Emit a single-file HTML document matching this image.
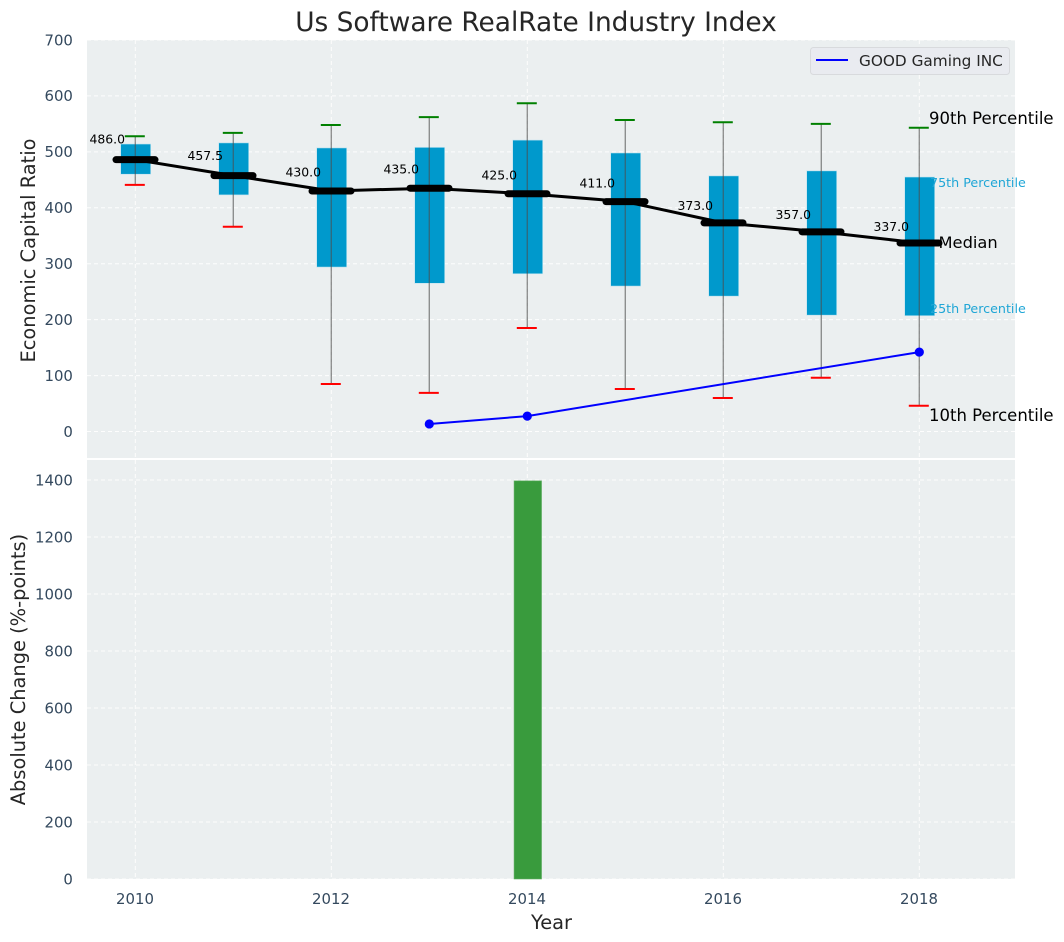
<!DOCTYPE html>
<html>
<head>
<meta charset="utf-8">
<title>Us Software RealRate Industry Index</title>
<style>
html,body{margin:0;padding:0;background:#fff;}
svg{display:block;font-family:"DejaVu Sans","Liberation Sans",sans-serif;}
</style>
</head>
<body>
<svg id="chart" width="1064" height="942" viewBox="0 0 1064 942" xmlns="http://www.w3.org/2000/svg">
  <text x="536" y="31" text-anchor="middle" font-size="26.4" fill="#262626">Us Software RealRate Industry Index</text>
  <rect x="87" y="40" width="928" height="418" fill="#ebeff0"/>
  <rect x="87" y="460" width="928" height="419" fill="#ebeff0"/>
  <g id="grid"></g>
  <g id="ticks"></g>
  <g id="bars"></g>
  <g id="boxes"></g>
  <g id="series"></g>
  <g id="labels"></g>
  <text x="929" y="124" font-size="16.5" fill="#000">90th Percentile</text>
  <text x="930" y="187" font-size="12.7" fill="#1fa6d6">75th Percentile</text>
  <text x="938.5" y="248" font-size="16.3" fill="#000">Median</text>
  <text x="930" y="313" font-size="12.7" fill="#1fa6d6">25th Percentile</text>
  <text x="929" y="421" font-size="16.5" fill="#000">10th Percentile</text>
  <text transform="translate(35,250.5) rotate(-90)" text-anchor="middle" font-size="19.4" fill="#262626">Economic Capital Ratio</text>
  <text transform="translate(25,669.5) rotate(-90)" text-anchor="middle" font-size="19.4" fill="#262626">Absolute Change (%-points)</text>
  <text x="551.5" y="929" text-anchor="middle" font-size="19.4" fill="#262626">Year</text>
  <g>
    <rect x="810.5" y="47.5" width="199" height="27" rx="3" fill="#e9ebf0" stroke="#d8dadd"/>
    <line x1="816" y1="60" x2="848" y2="60" stroke="#0000ff" stroke-width="2"/>
    <text x="859" y="66" font-size="15.3" fill="#262626">GOOD Gaming INC</text>
  </g>
</svg>
<script>
const years = [2010, 2011, 2012, 2013, 2014, 2015, 2016, 2017, 2018];
const p90 = [528, 534, 548, 562, 587, 557, 553, 550, 543];
const q3 = [514, 516, 507, 508, 521, 498, 457, 466, 455];
const median = [486, 457.5, 430, 435, 425, 411, 373, 357, 337];
const q1 = [460, 423, 294, 265, 282, 260, 242, 208, 207];
const p10 = [441, 366, 85, 69, 185, 76, 60, 96, 46];
const medianLabels = ['486.0', '457.5', '430.0', '435.0', '425.0', '411.0', '373.0', '357.0', '337.0'];
const companyYears = [2013, 2014, 2018];
const companyValues = [13.5, 27.5, 142];
const changeYears = [2014];
const changeValues = [1397];
const topTicks = [0, 100, 200, 300, 400, 500, 600, 700];
const bottomTicks = [0, 200, 400, 600, 800, 1000, 1200, 1400];
const xTicks = [2010, 2012, 2014, 2016, 2018];

const NS = 'http://www.w3.org/2000/svg';
const xScale = v => 135.3 + (v - 2010) * 98;
const yTop = v => 431.5 - v * 0.5593;
const yBottom = v => 879 - v * 0.285;

function make(parent, tag, attrs) {
  const el = document.createElementNS(NS, tag);
  for (const k in attrs) el.setAttribute(k, attrs[k]);
  parent.appendChild(el);
  return el;
}

const gridG = document.getElementById('grid');
const ticksG = document.getElementById('ticks');
const gridStyle = {stroke: '#ffffff', 'stroke-width': 1, 'stroke-dasharray': '4 3', opacity: 0.9};

topTicks.forEach(t => {
  const line = make(gridG, 'line', Object.assign({x1: 87, x2: 1015, y1: yTop(t), y2: yTop(t)}, gridStyle));
  
  
  const label = make(ticksG, 'text', {x: 72.9, y: yTop(t) + 5.3, 'text-anchor': 'end', 'font-size': 14.9, fill: '#34495e'});
  label.textContent = t;
  
  
});
bottomTicks.forEach(t => {
  const line = make(gridG, 'line', Object.assign({x1: 87, x2: 1015, y1: yBottom(t), y2: yBottom(t)}, gridStyle));
  
  
  const label = make(ticksG, 'text', {x: 72.9, y: yBottom(t) + 5.3, 'text-anchor': 'end', 'font-size': 14.9, fill: '#34495e'});
  label.textContent = t;
  
  
});
xTicks.forEach(t => {
  const a = make(gridG, 'line', Object.assign({x1: xScale(t), x2: xScale(t), y1: 40, y2: 458}, gridStyle));
  
  
  const b = make(gridG, 'line', Object.assign({x1: xScale(t), x2: xScale(t), y1: 460, y2: 879}, gridStyle));
  
  
  const label = make(ticksG, 'text', {x: xScale(t) - 0.3, y: 904, 'text-anchor': 'middle', 'font-size': 14.9, fill: '#34495e'});
  label.textContent = t;
  
  
});

const barsG = document.getElementById('bars');
changeYears.forEach((yr, i) => {
  const bar = make(barsG, 'rect', {
    x: xScale(yr - 0.14) + 0.5, y: yBottom(changeValues[i]),
    width: 0.28 * 98, height: yBottom(0) - yBottom(changeValues[i]),
    fill: '#399b3d', stroke: '#5fae62', 'stroke-width': 0.6
  });
  
  
});

const boxesG = document.getElementById('boxes');
const labelsG = document.getElementById('labels');

years.forEach((yr, i) => {
  const cx = xScale(yr);
  const box = make(boxesG, 'rect', {
    x: cx - 14.6, y: yTop(q3[i]), width: 30, height: yTop(q1[i]) - yTop(q3[i]),
    fill: '#0099cc', stroke: '#bfe3ef', 'stroke-width': 0.6
  });
  
  
});

const medianPath = make(boxesG, 'polyline', {
  points: years.map((yr, i) => xScale(yr) + ',' + yTop(median[i])).join(' '),
  fill: 'none', stroke: '#000', 'stroke-width': 3, 'stroke-linejoin': 'round'
});



years.forEach((yr, i) => {
  const cx = xScale(yr);
  const whisker = make(boxesG, 'line', {
    x1: cx, x2: cx, y1: yTop(p90[i]), y2: yTop(p10[i]),
    stroke: '#4d4d4d', 'stroke-opacity': 0.6, 'stroke-width': 1.4
  });
  
  

  const capHi = make(boxesG, 'line', {
    x1: cx - 10.5, x2: cx + 9.5, y1: yTop(p90[i]), y2: yTop(p90[i]), stroke: '#008000', 'stroke-width': 2
  });
  
  

  const capLo = make(boxesG, 'line', {
    x1: cx - 10.5, x2: cx + 9.5, y1: yTop(p10[i]), y2: yTop(p10[i]), stroke: '#ff0000', 'stroke-width': 2
  });
  
  

  const med = make(boxesG, 'line', {
    x1: cx - 19.3, x2: cx + 19.7, y1: yTop(median[i]), y2: yTop(median[i]),
    stroke: '#000', 'stroke-width': 7, 'stroke-linecap': 'round'
  });
  
  

  const lbl = make(labelsG, 'text', {
    x: cx - 45.8, y: yTop(median[i] * 1.05) - 2.6, 'font-size': 12.4, fill: '#000'
  });
  lbl.textContent = medianLabels[i];
  
  
});

const seriesG = document.getElementById('series');
const companyLine = make(seriesG, 'polyline', {
  points: companyYears.map((yr, i) => xScale(yr) + ',' + yTop(companyValues[i])).join(' '),
  fill: 'none', stroke: '#0000ff', 'stroke-width': 2
});


companyYears.forEach((yr, i) => {
  const dot = make(seriesG, 'circle', {cx: xScale(yr), cy: yTop(companyValues[i]), r: 4.6, fill: '#0000ff'});
  
  
});
</script>
</body>
</html>
